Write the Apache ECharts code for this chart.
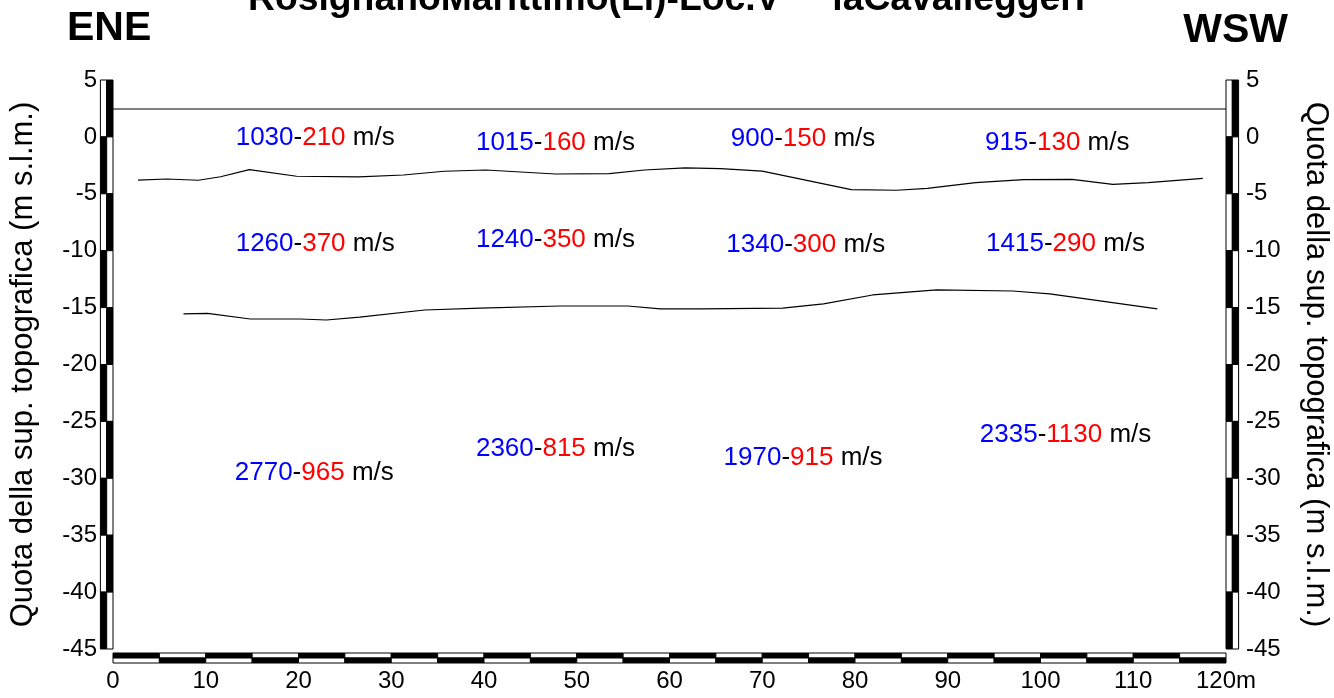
<!DOCTYPE html>
<html>
<head>
<meta charset="utf-8">
<script src="https://cdn.jsdelivr.net/npm/echarts@6/dist/echarts.min.js"></script>
<style>html,body{margin:0;padding:0;background:#fff}#chart{width:1334px;height:698px}</style>
</head>
<body>
<div id="chart"></div>
<script>
// ---- data ----
const titleText = 'RosignanoMarittimo(Li)-Loc.V     iaCavalleggeri';
const leftDir = 'ENE';
const rightDir = 'WSW';
const yAxisName = 'Quota della sup. topografica (m s.l.m.)';

// ground surface
const groundX = [0, 120];
const groundY = [2.45, 2.45];

// first refractor boundary
const layer1X = [2.7, 5.8, 9.2, 11.6, 14.7, 19.8, 26.5, 31.3, 35.7, 40.2, 47.7, 53.5, 57.3, 61.7, 65.5, 70.0, 79.6, 84.5, 87.8, 93.0, 98.2, 103.4, 107.8, 111.6, 117.5];
const layer1Y = [-3.79, -3.70, -3.81, -3.50, -2.88, -3.46, -3.52, -3.35, -3.02, -2.91, -3.26, -3.23, -2.91, -2.73, -2.79, -3.00, -4.64, -4.69, -4.52, -4.02, -3.76, -3.73, -4.17, -4.02, -3.64];

// second refractor boundary
const layer2X = [7.6, 10.2, 14.8, 20.2, 23.0, 26.6, 33.6, 39.6, 48.2, 55.5, 59.0, 63.3, 72.2, 76.6, 81.9, 88.8, 97.0, 101.0, 112.6];
const layer2Y = [-15.56, -15.50, -16.0, -16.0, -16.09, -15.83, -15.21, -15.04, -14.86, -14.86, -15.12, -15.12, -15.04, -14.68, -13.89, -13.45, -13.54, -13.80, -15.12];

// velocity labels (Vp - Vs)
const velX = [21.8, 47.7, 74.4, 101.8, 21.8, 47.7, 74.7, 102.7, 21.7, 47.7, 74.4, 102.7];
const velY = [-0.10, -0.54, -0.18, -0.54, -9.41, -9.06, -9.50, -9.41, -29.53, -27.42, -28.22, -26.19];
const velP = [1030, 1015, 900, 915, 1260, 1240, 1340, 1415, 2770, 2360, 1970, 2335];
const velS = [210, 160, 150, 130, 370, 350, 300, 290, 965, 815, 915, 1130];

// axis scale stops
const yStops = [5, 0, -5, -10, -15, -20, -25, -30, -35, -40, -45];
const xStops = [0, 5, 10, 15, 20, 25, 30, 35, 40, 45, 50, 55, 60, 65, 70, 75, 80, 85, 90, 95, 100, 105, 110, 115, 120];

// ---- build ----
const FONT = "'Liberation Sans', Arial, sans-serif";
const zip = (a, b) => a.map((v, i) => [v, b[i]]);

const scaleSegs = [];
for (let i = 0; i < yStops.length - 1; i++) {
  scaleSegs.push([0, yStops[i], yStops[i + 1], i]);
  scaleSegs.push([1, yStops[i], yStops[i + 1], i]);
}
for (let i = 0; i < xStops.length - 1; i++) {
  scaleSegs.push([2, xStops[i], xStops[i + 1], i]);
}
const xMin = xStops[0], xMax = xStops[xStops.length - 1];
const yMin = yStops[yStops.length - 1], yMax = yStops[0];

const velData = velX.map((x, i) => ({ value: [x, velY[i]], p: velP[i], s: velS[i] }));

const chart = echarts.init(document.getElementById('chart'), null, { renderer: 'canvas' });

const option = {
  backgroundColor: '#fff',
  animation: false,
  title: [
    { text: titleText, left: 243, top: -24, textStyle: { fontFamily: FONT, fontSize: 37.3, fontWeight: 'bold', color: '#000' } },
    { text: leftDir, left: 62, top: 3, textStyle: { fontFamily: FONT, fontSize: 41, fontWeight: 'bold', color: '#000' } },
    { text: rightDir, right: 41, top: 5, textStyle: { fontFamily: FONT, fontSize: 41, fontWeight: 'bold', color: '#000' } }
  ],
  grid: { left: 113, right: 108, top: 80, bottom: 49, containLabel: false, outerBoundsMode: 'none' },
  xAxis: {
    type: 'value', min: xMin, max: xMax, interval: 10,
    axisLine: { show: false }, axisTick: { show: false }, splitLine: { show: false },
    axisLabel: { margin: 20, fontFamily: FONT, fontSize: 24, color: '#000',
      formatter: v => v === xMax ? v + 'm' : String(v) }
  },
  yAxis: [
    {
      type: 'value', min: yMin, max: yMax, interval: 5, position: 'left',
      name: yAxisName, nameLocation: 'middle', nameGap: 74, nameRotate: 90,
      nameTextStyle: { fontFamily: FONT, fontSize: 31, color: '#000' },
      axisLine: { show: false }, axisTick: { show: false }, splitLine: { show: false },
      axisLabel: { margin: 16, fontFamily: FONT, fontSize: 24, color: '#000' }
    },
    {
      type: 'value', min: yMin, max: yMax, interval: 5, position: 'right',
      name: yAxisName, nameLocation: 'middle', nameGap: 74, nameRotate: -90,
      nameTextStyle: { fontFamily: FONT, fontSize: 31, color: '#000' },
      axisLine: { show: false }, axisTick: { show: false }, splitLine: { show: false },
      axisLabel: { margin: 20, fontFamily: FONT, fontSize: 24, color: '#000' }
    }
  ],
  series: [
    {
      type: 'line', data: zip(groundX, groundY), symbol: 'none',
      lineStyle: { color: '#000', width: 1.2 }
    },
    {
      type: 'line', data: zip(layer1X, layer1Y), symbol: 'none',
      lineStyle: { color: '#000', width: 1.2 }
    },
    {
      type: 'line', data: zip(layer2X, layer2Y), symbol: 'none',
      lineStyle: { color: '#000', width: 1.2 }
    },
    {
      type: 'scatter', data: velData, symbolSize: 0,
      itemStyle: { opacity: 1 },
      label: {
        show: true, position: 'inside', opacity: 1,
        formatter: p => '{b|' + p.data.p + '}{k|-}{r|' + p.data.s + '}{k| m/s}',
        rich: {
          b: { color: '#0000ff', fontFamily: FONT, fontSize: 26, opacity: 1 },
          r: { color: '#ff0000', fontFamily: FONT, fontSize: 26, opacity: 1 },
          k: { color: '#000000', fontFamily: FONT, fontSize: 26, opacity: 1 }
        }
      }
    },
    {
      type: 'custom', data: scaleSegs, clip: false, silent: true,
      renderItem: function (params, api) {
        const kind = api.value(0), a = api.value(1), b = api.value(2), i = api.value(3);
        const W = 12.6, H = 10, G = 4;
        let rects;
        if (kind < 2) {
          const xv = kind === 0 ? xMin : xMax;
          const pa = api.coord([xv, a]), pb = api.coord([xv, b]);
          const x0 = kind === 0 ? pa[0] - W : pa[0];
          const blackRight = i % 2 === 0;
          rects = [
            { x: x0, y: pa[1], w: W / 2, h: pb[1] - pa[1], f: blackRight ? '#fff' : '#000' },
            { x: x0 + W / 2, y: pa[1], w: W / 2, h: pb[1] - pa[1], f: blackRight ? '#000' : '#fff' }
          ];
        } else {
          const pa = api.coord([a, yMin]), pb = api.coord([b, yMin]);
          const y0 = pa[1] + G;
          const topBlack = i % 2 === 0;
          rects = [
            { x: pa[0], y: y0, w: pb[0] - pa[0], h: H / 2, f: topBlack ? '#000' : '#fff' },
            { x: pa[0], y: y0 + H / 2, w: pb[0] - pa[0], h: H / 2, f: topBlack ? '#fff' : '#000' }
          ];
        }
        return {
          type: 'group',
          children: rects.map(r => ({
            type: 'rect',
            shape: { x: r.x, y: r.y, width: r.w, height: r.h },
            style: { fill: r.f, stroke: '#000', lineWidth: 1 }
          }))
        };
      }
    }
  ]
};
chart.setOption(option);
</script>
</body>
</html>
